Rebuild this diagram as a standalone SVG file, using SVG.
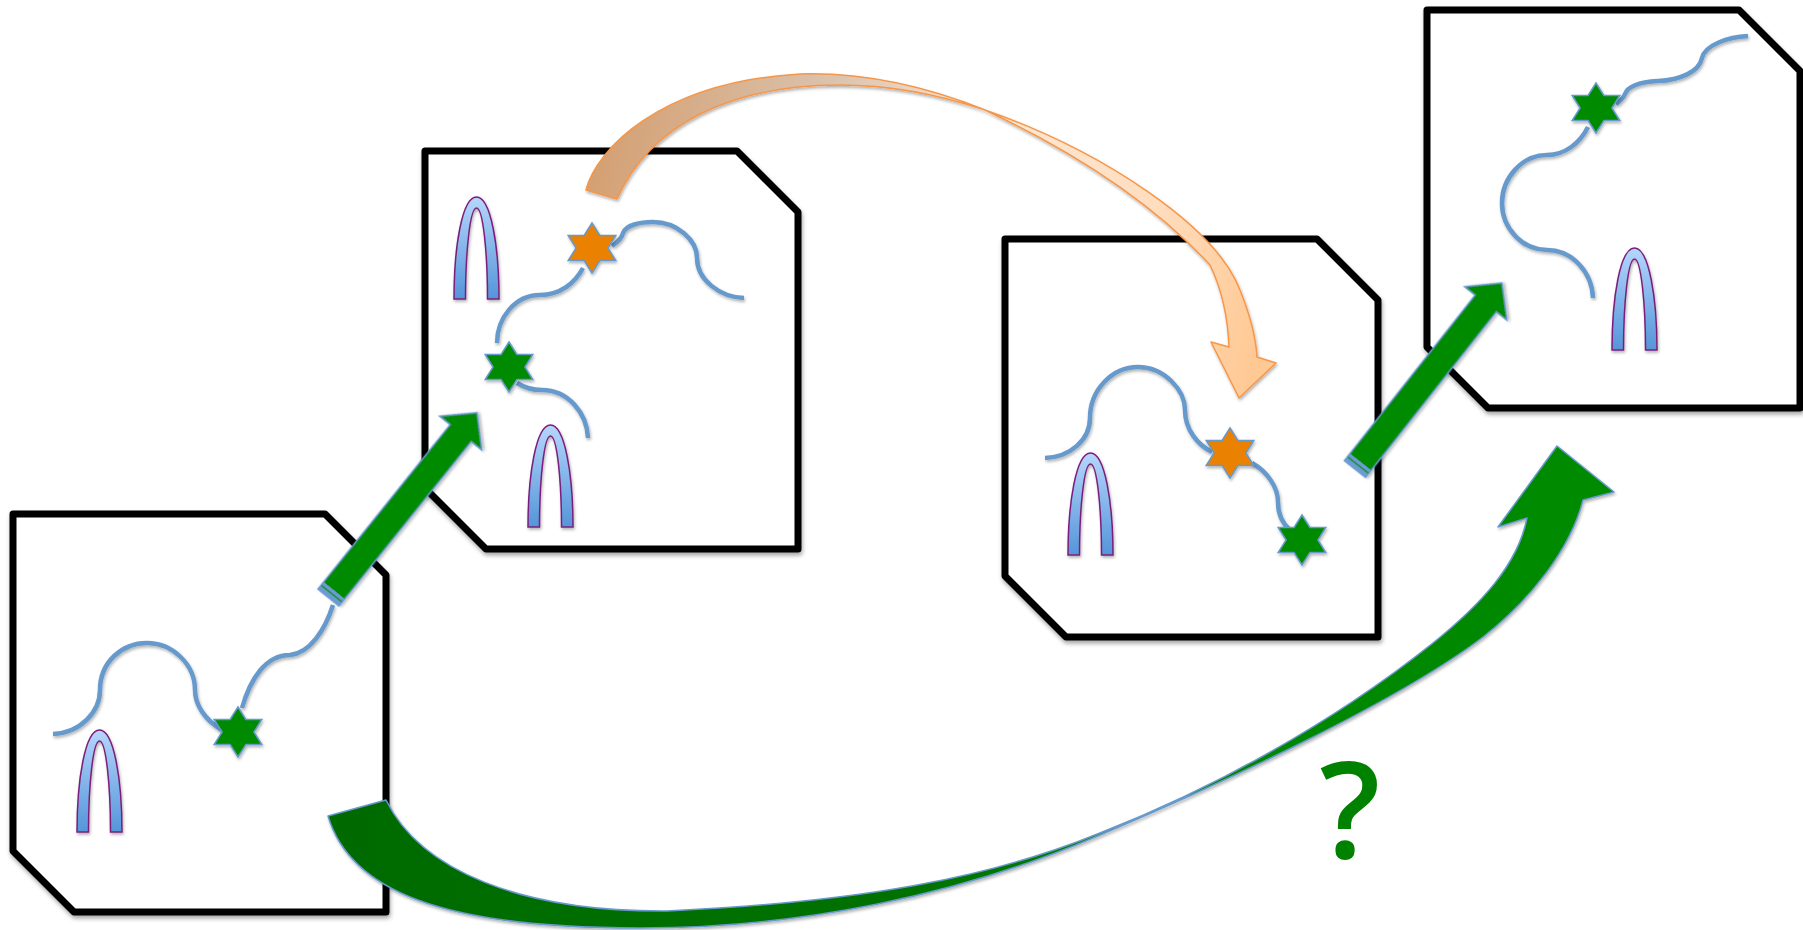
<svg xmlns="http://www.w3.org/2000/svg" xmlns:xlink="http://www.w3.org/1999/xlink" width="1803" height="930" viewBox="0 0 1803 930">
  <style>
    .box { fill: #ffffff; stroke: #000000; stroke-width: 7; stroke-linejoin: round; filter: url(#sh); }
    .sq { fill: none; stroke: #6699CC; stroke-width: 4.5; filter: url(#shs); }
    .star { stroke: #6699CC; stroke-width: 1.5; filter: url(#shs); }
    .g { fill: #008A00; }
    .o { fill: #EB8100; }
    .arch { fill: url(#archGrad); stroke: #7B1F7B; stroke-width: 1.5; filter: url(#shs); }
    .q { font-family: "Open Sans", "Noto Sans", "Liberation Sans", sans-serif; font-size: 134px; font-weight: 600; fill: #008200; }
  </style>
  <defs>
    <filter id="sh" x="-10%" y="-10%" width="125%" height="125%">
      <feDropShadow dx="1" dy="3" stdDeviation="2" flood-color="#000" flood-opacity="0.35"/>
    </filter>
    <filter id="shs" x="-20%" y="-20%" width="150%" height="150%">
      <feDropShadow dx="1" dy="2" stdDeviation="1.5" flood-color="#000" flood-opacity="0.3"/>
    </filter>
    <linearGradient id="archGrad" x1="0" y1="0" x2="0" y2="1">
      <stop offset="0" stop-color="#B5D6FB"/>
      <stop offset="1" stop-color="#5595DA"/>
    </linearGradient>
    <linearGradient id="orGrad" gradientUnits="userSpaceOnUse" x1="586" y1="200" x2="1250" y2="380">
      <stop offset="0" stop-color="#D4A073"/>
      <stop offset="0.3" stop-color="#DAC3AE"/>
      <stop offset="0.55" stop-color="#FDE7D5"/>
      <stop offset="0.8" stop-color="#FFDDBF"/>
      <stop offset="1" stop-color="#FFC994"/>
    </linearGradient>
    <linearGradient id="grGrad" gradientUnits="userSpaceOnUse" x1="330" y1="0" x2="1560" y2="0">
      <stop offset="0" stop-color="#006B00"/>
      <stop offset="0.45" stop-color="#007000"/>
      <stop offset="0.75" stop-color="#008600"/>
      <stop offset="1" stop-color="#008A00"/>
    </linearGradient>
    <path id="boxShape" d="M0,0 L312,0 L373,61 L373,398 L61,398 L0,337 Z"/>
    <path id="star" d="M0,-25 L7.9,-12.5 L23.8,-12.5 L15.9,0 L23.8,12.5 L7.9,12.5 L0,25 L-7.9,12.5 L-23.8,12.5 L-15.9,0 L-23.8,-12.5 L-7.9,-12.5 Z"/>
    <path id="arch" d="M0,102 C0,50 8,0 22.5,0 C37,0 45,50 45,102 L33.5,102 C33.5,55 29,11 22.5,11 C16,11 11.5,55 11.5,102 Z"/>
    <g id="sarrow">
      <path d="M0,-13.5 L211,-13.5 L211,-27 L237,0 L211,27 L211,13.5 L0,13.5 Z" fill="#008A00" stroke="#6699CC" stroke-width="1.5"/>
      <rect x="0" y="-13.5" width="9" height="27" fill="#6B9BD2"/>
      <line x1="5" y1="-13" x2="5" y2="13" stroke="#008A00" stroke-width="1.2"/>
    </g>
  </defs>

  <!-- frame 1 -->
  <g id="frame1">
    <use href="#boxShape" class="box" transform="translate(13,514)"/>
    <path class="sq" d="M53,734 C80,733 100,712 100,690 C100,662 122,643 147,643 C172,643 195,664 195,690 C195,705 205,720 222,730"/>
    <path class="sq" d="M242,708 C250,680 265,655 290,655 C310,653 325,630 333,605"/>
    <use href="#arch" class="arch" x="77" y="730"/>
    <use href="#star" class="star g" x="238" y="732"/>
  </g>

  <!-- frame 2 -->
  <g id="frame2">
    <use href="#boxShape" class="box" transform="translate(425,151)"/>
    <path class="sq" d="M612,246 C618,242 622,238 623,233 C626,225 640,222 653,222 C677,222 697,240 697,258 C697,280 720,297 744,298"/>
    <path class="sq" d="M583,268 C575,283 560,295 540,295 C515,295 497,318 497,343"/>
    <path class="sq" d="M517,383 C525,388 532,390 542,390 C568,390 587,413 588,438"/>
    <use href="#arch" class="arch" x="454" y="197"/>
    <use href="#arch" class="arch" x="528" y="425"/>
    <use href="#star" class="star o" x="592" y="248"/>
    <use href="#star" class="star g" x="509" y="367"/>
  </g>

  <!-- frame 3 -->
  <g id="frame3">
    <use href="#boxShape" class="box" transform="translate(1005,239)"/>
    <path class="sq" d="M1045,458 C1070,457 1090,440 1090,418 C1090,390 1112,367 1138,367 C1164,367 1185,390 1185,410 C1185,430 1198,445 1212,452"/>
    <path class="sq" d="M1252,463 C1268,472 1278,488 1278,502 C1278,515 1282,523 1290,530"/>
    <use href="#arch" class="arch" x="1068" y="453"/>
    <use href="#star" class="star o" x="1230" y="453"/>
    <use href="#star" class="star g" x="1302" y="540"/>
  </g>

  <!-- frame 4 -->
  <g id="frame4">
    <use href="#boxShape" class="box" transform="translate(1427,10)"/>
    <path class="sq" d="M1748,36 C1728,37 1705,45 1702,58 C1699,72 1680,80 1658,81 C1640,82 1628,86 1625,94 C1623,99 1620,101 1616,104"/>
    <path class="sq" d="M1588,127 C1580,143 1565,155 1547,155 C1522,155 1502,178 1502,203 C1502,228 1522,250 1547,250 C1572,250 1592,272 1593,298"/>
    <use href="#arch" class="arch" x="1612" y="248"/>
    <use href="#star" class="star g" x="1596" y="108"/>
  </g>

  <!-- connectors -->
  <g id="connectors">
    <use href="#sarrow" filter="url(#shs)" transform="translate(328.5,597.5) rotate(-51.2)"/>
    <use href="#sarrow" filter="url(#shs)" transform="translate(1355,469) rotate(-51.7)"/>
    <path filter="url(#shs)" fill="url(#orGrad)" stroke="#F79646" stroke-width="1.5" stroke-linejoin="round"
          d="M586,190 C596,150 660,82 800,74 C870,72 935,90 985,110 C1100,150 1215,225 1240,290 C1252,320 1256,340 1257,357 L1276,363 L1239,398 L1211,342 L1229,347 C1228,320 1222,290 1210,265 C1150,200 1070,150 985,110 C940,95 890,85 840,85 C730,85 650,125 617,199 Z"/>
    <path filter="url(#shs)" fill="url(#grGrad)" stroke="#6699CC" stroke-width="1.5" stroke-linejoin="round"
          d="M328,816 C350,890 440,928 640,928 C800,928 960,895 1100,835 C1230,780 1400,700 1483,637 C1530,600 1570,550 1583,500 L1614,492 L1557,446 L1498,527 L1527,518 C1518,565 1480,605 1433,643 C1330,725 1210,790 1100,833 C990,878 860,902 667,911 C520,912 420,870 386,800 Z"/>
  </g>

  <text class="q" x="1350" y="858" text-anchor="middle">?</text>
</svg>
